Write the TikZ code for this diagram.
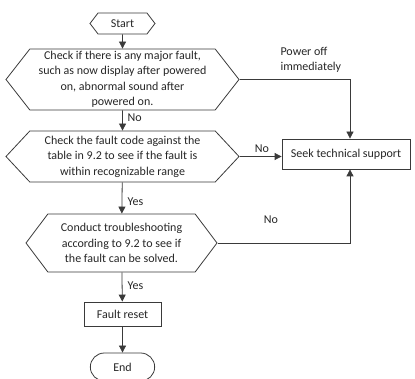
\documentclass[tikz,border=0pt]{standalone}
\usepackage{fontspec}
\setmainfont{Carlito}
\usetikzlibrary{shapes.symbols,shapes.misc,arrows.meta}
\definecolor{linegray}{HTML}{3A3A3A}
\definecolor{txtgray}{HTML}{262626}

\begin{document}
\begin{tikzpicture}[x=1pt,y=-1pt,
      every node/.style={font=\fontsize{12}{15.5}\selectfont, text=txtgray},
      hexa/.style={draw=linegray, line width=0.8pt, shape=signal, signal to=west and east, align=center, inner sep=0pt},
      boxx/.style={draw=linegray, line width=0.8pt, rectangle, inner sep=0pt},
      arr/.style={draw=linegray, line width=0.8pt, -{Triangle[length=7pt,width=7pt]}}]
      \useasboundingbox (0,0) rectangle (415,379);
      %main column
      \node[hexa, minimum width=65pt, minimum height=21pt, signal pointer angle=105] (start) at (122.5,23.5) {Start};
      \node[hexa, minimum width=233pt, minimum height=61pt, signal pointer angle=104] (major) at (122.5,79.5)
        {Check if there is any major fault,\\such as now display after powered\\on, abnormal sound after\\powered on.};
      \node[hexa, minimum width=233pt, minimum height=51pt, signal pointer angle=94] (code) at (122.5,156.5)
        {Check the fault code against the\\table in 9.2 to see if the fault is\\within recognizable range};
      \node[hexa, minimum width=191pt, minimum height=58pt, signal pointer angle=106] (solve) at (121.5,243)
        {Conduct troubleshooting\\according to 9.2 to see if\\the fault can be solved.};
      \node[boxx, minimum width=77pt, minimum height=24pt] (reset) at (122.5,314) {Fault reset};
      \node[draw=linegray, line width=0.8pt, rounded rectangle, minimum width=71pt, minimum height=28pt] (end) at (122.5,367) {End};
      %support
      \node[boxx, minimum width=128pt, minimum height=30pt] (seek) at (346,154) {Seek technical support};
      %arrows
      \draw[arr] (start) -- (major);
      \draw[arr] (major) -- (code);
      \draw[arr] (code) -- (solve);
      \draw[arr] (solve) -- (reset);
      \draw[arr] (reset) -- (end);
      \draw[arr] (major.east) -| ([xshift=4pt]seek.north);
      \draw[arr] (code.east) -- (code.east -| seek.west);
      \draw[arr] (solve.east) -| ([xshift=4pt]seek.south);
      %labels
      \node[anchor=west] (no1) at (124,118) {No};
      \node[anchor=west] (yes1) at (124,202) {Yes};
      \node[anchor=west] (yes2) at (124,286) {Yes};
      \node (no2) at (262,149) {No};
      \node (no3) at (271,220) {No};
      \node[anchor=west, align=left] (power) at (277,60) {Power off\\immediately};
    \end{tikzpicture}
\end{document}
